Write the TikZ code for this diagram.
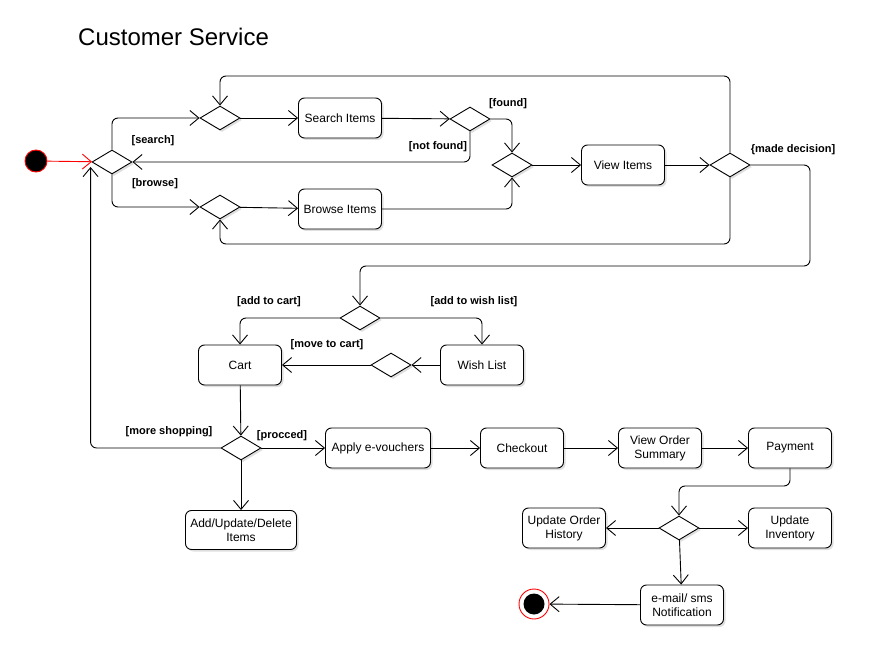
\documentclass[tikz,border=0pt]{standalone}
\usepackage{fontspec}
\setmainfont{Liberation Sans}
\usetikzlibrary{arrows.meta,shapes.geometric,shadows}

\begin{document}
\begin{tikzpicture}[x=1pt,y=-1pt,
    activity/.style={draw, rounded corners=6pt, fill=white, line width=0.9pt,
      minimum width=83pt, minimum height=40pt, align=center,
      font=\fontsize{12}{14}\selectfont,
      drop shadow={opacity=0.25, shadow xshift=2pt, shadow yshift=-2pt}},
    decision/.style={draw, diamond, fill=white, line width=0.9pt, inner sep=0pt,
      minimum width=40pt, minimum height=24pt,
      drop shadow={opacity=0.25, shadow xshift=2pt, shadow yshift=-2pt}},
    guard/.style={font=\fontsize{11}{13}\selectfont\bfseries},
    flow/.style={line width=0.9pt, rounded corners=6pt,
      -{Straight Barb[length=9pt,width=15pt]}}]
  \useasboundingbox (0,0) rectangle (875,652);

  \node[anchor=west, inner sep=0pt, font=\fontsize{24}{28}\selectfont] (title) at (78,37) {Customer Service};

  % start and decisions of the browsing part
  \node[circle, fill=black, draw=red, line width=0.9pt, minimum size=22pt, inner sep=0pt] (init) at (36,161) {};
  \node[decision] (D1) at (112,162) {};
  \node[decision] (D2) at (220,118) {};
  \node[decision] (D3) at (220,207) {};
  \node[activity] (search) at (340,118) {Search Items};
  \node[activity] (browse) at (340,209) {Browse Items};
  \node[decision] (D4) at (470,119) {};
  \node[decision] (D5) at (512,165) {};
  \node[activity] (view) at (623,165) {View Items};
  \node[decision] (D6) at (730,165) {};

  % cart part
  \node[decision] (D7) at (360,318) {};
  \node[activity] (cart) at (240,365) {Cart};
  \node[activity] (wish) at (482,365) {Wish List};
  \node[decision] (D8) at (391,365) {};
  \node[decision] (D9) at (241,448) {};
  \node[activity, minimum width=111pt, minimum height=39pt] (aud) at (241,530) {Add/Update/Delete\\Items};

  % order part
  \node[activity, minimum width=105pt] (apply) at (378,448) {Apply e-vouchers};
  \node[activity] (checkout) at (522,448) {Checkout};
  \node[activity] (summary) at (660,448) {View Order\\Summary};
  \node[activity] (payment) at (790,448) {Payment};
  \node[decision] (D10) at (679,528) {};
  \node[activity] (history) at (564,528) {Update Order\\History};
  \node[activity] (inventory) at (790,528) {Update\\Inventory};
  \node[activity] (notify) at (682,605) {e-mail/ sms\\Notification};
  \node[circle, draw=red, fill=white, line width=0.9pt, minimum size=30pt, inner sep=0pt] (final) at (534,604) {};
  \fill (final.center) circle (10.5pt);

  % turning points
  \coordinate (toploop) at (0,76);
  \coordinate (botloop) at (0,244);
  \coordinate (rightloop) at (810,266);
  \coordinate (payturn) at (0,486);

  % guards
  \node[guard] (gsearch) at (153,141) {[search]};
  \node[guard] (gbrowse) at (155,184) {[browse]};
  \node[guard] (gfound) at (508,104) {[found]};
  \node[guard] (gnotfound) at (438,147) {[not found]};
  \node[guard] (gdecision) at (793,150) {\{made decision]};
  \node[guard] (gcart) at (269,302) {[add to cart]};
  \node[guard] (gwish) at (474,302) {[add to wish list]};
  \node[guard] (gmove) at (327,345) {[move to cart]};
  \node[guard] (gmore) at (169,432) {[more shopping]};
  \node[guard] (gproceed) at (282,436) {[procced]};

  % connectors
  \draw[flow, red] (init) -- (D1);
  \draw[flow] (D1.north) |- (D2.west);
  \draw[flow] (D1.south) |- (D3.west);
  \draw[flow] (D2) -- (search);
  \draw[flow] (D3) -- (browse);
  \draw[flow] (search) -- (D4);
  \draw[flow] (D4.east) -| (D5.north);
  \draw[flow] (D4.south) |- (D1.east);
  \draw[flow] (browse) -| (D5.south);
  \draw[flow] (D5) -- (view);
  \draw[flow] (view) -- (D6);
  \draw[flow] (D6.north) -- (D6.north |- toploop) -| (D2.north);
  \draw[flow] (D6.south) -- (D6.south |- botloop) -| (D3.south);
  \draw[flow] (D6.east) -| (rightloop) -| (D7.north);
  \draw[flow] (D7.west) -| (cart.north);
  \draw[flow] (D7.east) -| (wish.north);
  \draw[flow] (wish) -- (D8);
  \draw[flow] (D8) -- (cart);
  \draw[flow] (cart) -- (D9);
  \draw[flow] (D9.west) -| ([xshift=-1pt,yshift=-5pt]D1.west);
  \draw[flow] (D9) -- (apply);
  \draw[flow] (D9) -- (aud);
  \draw[flow] (apply) -- (checkout);
  \draw[flow] (checkout) -- (summary);
  \draw[flow] (summary) -- (payment);
  \draw[flow] (payment.south) -- (payment.south |- payturn) -| (D10.north);
  \draw[flow] (D10) -- (history);
  \draw[flow] (D10) -- (inventory);
  \draw[flow] (D10) -- (notify);
  \draw[flow] (notify) -- (final);
\end{tikzpicture}
\end{document}
